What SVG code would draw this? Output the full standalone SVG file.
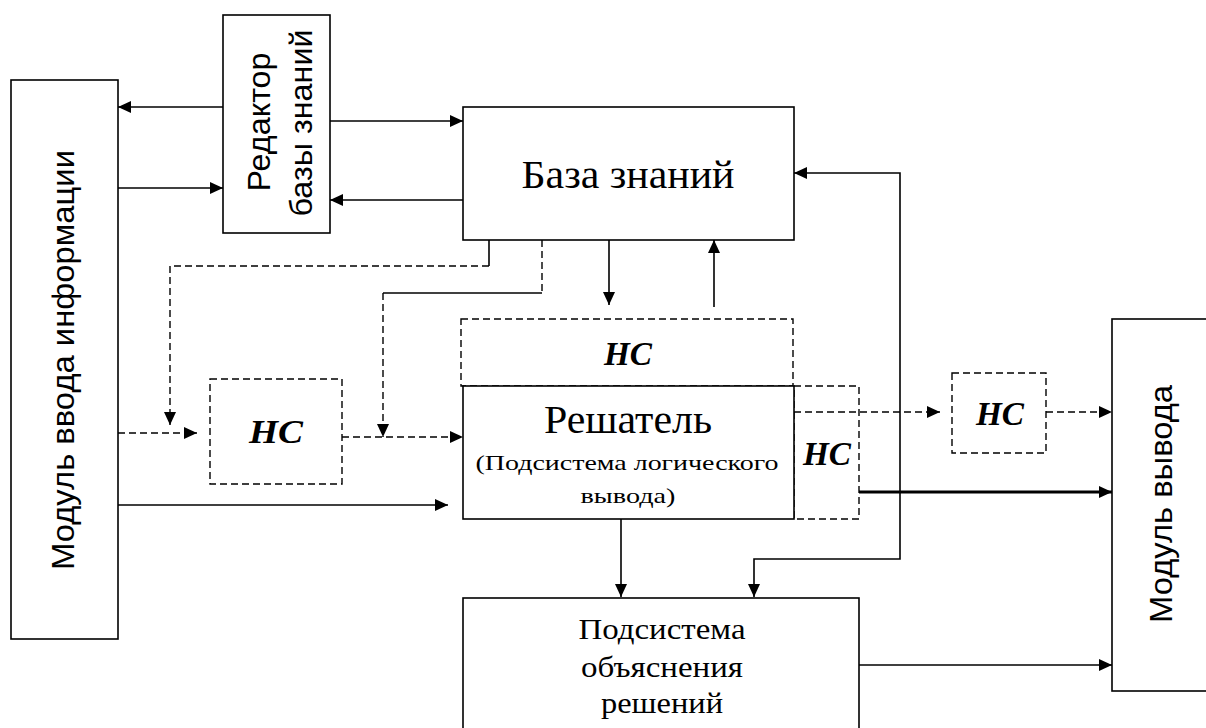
<svg xmlns="http://www.w3.org/2000/svg" width="1206" height="728" viewBox="0 0 1206 728">
  <defs>
    <marker id="arrow" markerUnits="userSpaceOnUse" markerWidth="14" markerHeight="12" refX="13" refY="6" orient="auto-start-reverse">
      <path d="M0,0 L13,6 L0,12 Z" fill="#000"/>
    </marker>
    <style>
      .box { fill: #fff; stroke: #000; stroke-width: 1.6; }
      .dbox { fill: none; stroke: #000; stroke-width: 1.4; stroke-dasharray: 7 4; }
      .ln { fill: none; stroke: #000; stroke-width: 1.6; }
      .dash { fill: none; stroke: #000; stroke-width: 1.4; stroke-dasharray: 7 4; }
      .thick { fill: none; stroke: #000; stroke-width: 3; }
      .sans { font-family: "Liberation Sans", Arial, sans-serif; font-size: 32px; fill: #000; }
      .serif { font-family: "Liberation Serif", "Times New Roman", serif; fill: #000; }
      .nc { font-family: "Liberation Serif", "Times New Roman", serif; font-weight: bold; font-style: italic; font-size: 34px; fill: #000; }
    </style>
  </defs>

  <rect x="0" y="0" width="1206" height="728" fill="#fff"/>

  <!-- blocks -->
  <g id="input-module">
    <rect class="box" x="11" y="80" width="107" height="559"/>
    <text class="sans" text-anchor="middle" textLength="420" lengthAdjust="spacingAndGlyphs" transform="translate(74,360) rotate(-90)">Модуль ввода информации</text>
  </g>

  <g id="kb-editor">
    <rect class="box" x="223" y="15" width="107" height="218"/>
    <text class="sans" text-anchor="middle" textLength="139" lengthAdjust="spacingAndGlyphs" transform="translate(270,122) rotate(-90)">Редактор</text>
    <text class="sans" text-anchor="middle" textLength="187" lengthAdjust="spacingAndGlyphs" transform="translate(312,123) rotate(-90)">базы знаний</text>
  </g>

  <g id="knowledge-base">
    <rect class="box" x="463" y="107" width="331" height="133"/>
    <text class="serif" x="628" y="188" font-size="40" text-anchor="middle" textLength="213" lengthAdjust="spacingAndGlyphs">База знаний</text>
  </g>

  <g id="nc-left">
    <rect class="dbox" x="210" y="379" width="132" height="105"/>
    <text class="nc" x="276" y="443" text-anchor="middle" textLength="54" lengthAdjust="spacingAndGlyphs">НС</text>
  </g>

  <g id="nc-top">
    <rect class="dbox" x="461" y="319" width="332" height="67"/>
    <text class="nc" x="628" y="365" text-anchor="middle" textLength="48" lengthAdjust="spacingAndGlyphs">НС</text>
  </g>

  <g id="nc-side">
    <rect class="dbox" x="794" y="386" width="65" height="133"/>
    <text class="nc" x="827" y="465" text-anchor="middle" textLength="48" lengthAdjust="spacingAndGlyphs">НС</text>
  </g>

  <g id="solver">
    <rect class="box" x="463" y="386" width="331" height="133"/>
    <text class="serif" x="628" y="433" font-size="39" text-anchor="middle" textLength="168" lengthAdjust="spacingAndGlyphs">Решатель</text>
    <text class="serif" x="627" y="470" font-size="22" text-anchor="middle" textLength="303" lengthAdjust="spacingAndGlyphs">(Подсистема логического</text>
    <text class="serif" x="628" y="503" font-size="22" text-anchor="middle" textLength="95" lengthAdjust="spacingAndGlyphs">вывода)</text>
  </g>

  <g id="nc-right">
    <rect class="dbox" x="952" y="373" width="94" height="80"/>
    <text class="nc" x="1000" y="425" text-anchor="middle" textLength="48" lengthAdjust="spacingAndGlyphs">НС</text>
  </g>

  <g id="output-module">
    <rect class="box" x="1112" y="319" width="110" height="372"/>
    <text class="sans" text-anchor="middle" textLength="238" lengthAdjust="spacingAndGlyphs" transform="translate(1172,504) rotate(-90)">Модуль вывода</text>
  </g>

  <g id="explanation">
    <rect class="box" x="463" y="598" width="396" height="150"/>
    <text class="serif" x="662" y="639" font-size="29" text-anchor="middle" textLength="167" lengthAdjust="spacingAndGlyphs">Подсистема</text>
    <text class="serif" x="662" y="677" font-size="29" text-anchor="middle" textLength="162" lengthAdjust="spacingAndGlyphs">объяснения</text>
    <text class="serif" x="662" y="713" font-size="29" text-anchor="middle" textLength="122" lengthAdjust="spacingAndGlyphs">решений</text>
  </g>

  <!-- connectors -->
  <g id="connectors">
    <line class="ln" x1="223" y1="107" x2="118" y2="107" marker-end="url(#arrow)"/>
    <line class="ln" x1="118" y1="188" x2="223" y2="188" marker-end="url(#arrow)"/>
    <line class="ln" x1="330" y1="121" x2="463" y2="121" marker-end="url(#arrow)"/>
    <line class="ln" x1="463" y1="200" x2="330" y2="200" marker-end="url(#arrow)"/>

    <line class="ln" x1="489" y1="240" x2="489" y2="266"/>
    <polyline class="dash" points="489,266 170,266 170,425" marker-end="url(#arrow)"/>

    <line class="dash" x1="542" y1="240" x2="542" y2="293"/>
    <line class="ln" x1="542" y1="293" x2="383" y2="293"/>
    <line class="dash" x1="383" y1="293" x2="383" y2="437" marker-end="url(#arrow)"/>

    <line class="dash" x1="118" y1="433" x2="197" y2="433" marker-end="url(#arrow)"/>
    <line class="dash" x1="342" y1="437" x2="463" y2="437" marker-end="url(#arrow)"/>
    <line class="ln" x1="118" y1="505" x2="448" y2="505" marker-end="url(#arrow)"/>

    <line class="ln" x1="609" y1="240" x2="609" y2="305" marker-end="url(#arrow)"/>
    <line class="ln" x1="714" y1="307" x2="714" y2="240" marker-end="url(#arrow)"/>

    <line class="dash" x1="794" y1="412" x2="940" y2="412" marker-end="url(#arrow)"/>
    <line class="dash" x1="1046" y1="412" x2="1112" y2="412" marker-end="url(#arrow)"/>
    <line class="thick" x1="859" y1="492" x2="1112" y2="492" marker-end="url(#arrow)"/>

    <line class="ln" x1="621" y1="519" x2="621" y2="597" marker-end="url(#arrow)"/>
    <polyline class="ln" points="794,173 900,173 900,559 754,559 754,597" marker-start="url(#arrow)" marker-end="url(#arrow)"/>

    <line class="ln" x1="859" y1="665" x2="1112" y2="665" marker-end="url(#arrow)"/>
  </g>
</svg>
